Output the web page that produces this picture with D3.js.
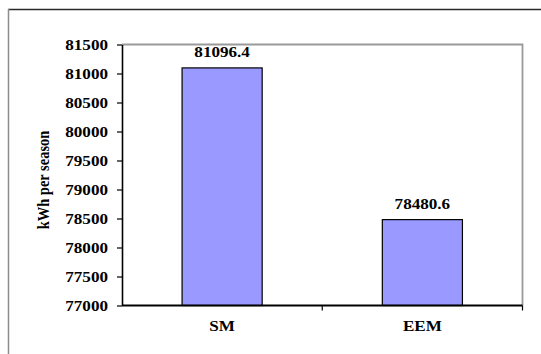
<!DOCTYPE html>
<html>
<head>
<meta charset="utf-8">
<script src="https://cdn.jsdelivr.net/npm/d3@7"></script>
<style>
  html, body { margin: 0; padding: 0; background: #fff; }
  svg { display: block; }
</style>
</head>
<body>
<svg id="chart" width="541" height="354"></svg>
<script>
// Seasonal energy use per control strategy
const categories = ["SM", "EEM"];
const values = [81096.4, 78480.6];
const valueLabels = ["81096.4", "78480.6"];
const yTicks = [77000, 77500, 78000, 78500, 79000, 79500, 80000, 80500, 81000, 81500];
const yTitle = "kWh per season";

const FONT = "'Liberation Serif', Tinos, 'Times New Roman', Times, serif";
const svg = d3.select("#chart");
const W = 541, H = 354;
const plot = { left: 122, right: 522.5, top: 44.5, bottom: 305.5 };
const stretch = 1.18; // wide serif lettering

// outer frame (top edge dark, left edge grey)
svg.append("line").attr("x1", 8).attr("x2", W).attr("y1", 9.5).attr("y2", 9.5)
  .attr("stroke", "#2a2a2a").attr("stroke-width", 1.5);
svg.append("line").attr("x1", 8.5).attr("x2", 8.5).attr("y1", 9).attr("y2", H)
  .attr("stroke", "#8c8c8c").attr("stroke-width", 1.5);

const x = d3.scaleBand().domain(categories).range([plot.left, plot.right])
  .paddingInner(0.6).paddingOuter(0.3);
const xBand = d3.scaleBand().domain(categories).range([plot.left, plot.right]);
const y = d3.scaleLinear().domain([77000, 81500]).range([plot.bottom, plot.top]);

// plot-area border on top and right
svg.append("path")
  .attr("d", `M${plot.left},${plot.top}H${plot.right}V${plot.bottom}`)
  .attr("fill", "none").attr("stroke", "#9a9a9a").attr("stroke-width", 1.8);

// bars
svg.append("g").selectAll("rect").data(values).join("rect")
  .attr("x", (d, i) => x(categories[i]))
  .attr("width", x.bandwidth())
  .attr("y", d => y(d))
  .attr("height", d => y(77000) - y(d))
  .attr("fill", "#9999FF")
  .attr("stroke", "#000").attr("stroke-width", 1.2);

function styleText(t, size) {
  return t.style("font-family", FONT).style("font-weight", "bold")
    .style("font-size", size + "px").attr("fill", "#000");
}
function wideText(g, tx, ty, str, anchor, size) {
  return styleText(g.append("text")
    .attr("transform", `translate(${tx},${ty}) scale(${stretch},1)`)
    .attr("text-anchor", anchor)
    .text(str), size);
}

// value labels above bars
values.forEach((v, i) => {
  wideText(svg, x(categories[i]) + x.bandwidth() / 2, y(v) - 11, valueLabels[i], "middle", 14.5);
});

// y axis
const yAxis = svg.append("g").attr("transform", `translate(${plot.left},0)`)
  .call(d3.axisLeft(y).tickValues(yTicks).tickSize(5).tickSizeOuter(0).tickFormat(d3.format("d")));
yAxis.select(".domain").attr("stroke", "#000").attr("stroke-width", 1.6);
yAxis.selectAll(".tick line").attr("stroke", "#000").attr("stroke-width", 1.2);
yAxis.selectAll(".tick text").remove();
yTicks.forEach(t => {
  wideText(svg, 108, y(t) + 5, d3.format("d")(t), "end", 14.5);
});

// x axis with ticks at category boundaries
const xAxis = svg.append("g").attr("transform", `translate(0,${plot.bottom})`);
xAxis.append("line").attr("x1", plot.left).attr("x2", plot.right)
  .attr("stroke", "#000").attr("stroke-width", 1.8);
const bounds = categories.map(c => xBand(c)).concat([plot.right]);
xAxis.selectAll("line.tk").data(bounds.slice(1)).join("line").attr("class", "tk")
  .attr("x1", d => d).attr("x2", d => d).attr("y1", 0).attr("y2", 5)
  .attr("stroke", "#000").attr("stroke-width", 1.2);
categories.forEach(c => {
  wideText(svg, xBand(c) + xBand.bandwidth() / 2, 331, c, "middle", 14.5);
});

// y axis title
styleText(svg.append("text")
  .attr("transform", `translate(49,180) rotate(-90) scale(1,${stretch})`)
  .attr("text-anchor", "middle")
  .text(yTitle), 14.5);
</script>
</body>
</html>
